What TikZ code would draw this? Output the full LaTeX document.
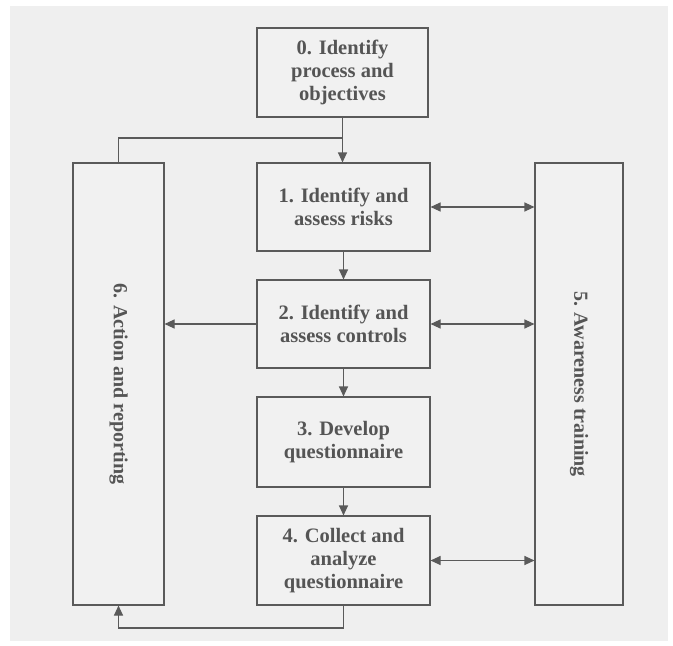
\documentclass[tikz,border=0pt]{standalone}
\usepackage{fontspec}
\setmainfont{Liberation Serif}
\usetikzlibrary{arrows.meta}
\definecolor{bgc}{HTML}{EFEFEF}
\definecolor{boxc}{HTML}{F1F1F1}
\definecolor{linec}{HTML}{5A5A5A}
\definecolor{txtc}{HTML}{555555}
\tikzset{
  stepbox/.style={draw=linec, line width=1.1pt, fill=boxc, rectangle, inner sep=0pt,
    text=txtc, font=\fontsize{20.5}{23}\selectfont\bfseries, align=center},
  sidetext/.style={text=txtc, font=\fontsize{20}{23}\selectfont\bfseries, rotate=-90},
  conn/.style={draw=linec, line width=1.1pt},
  arr/.style={conn, -{Triangle[length=10pt,width=9pt]}},
  darr/.style={conn, {Triangle[length=10pt,width=9pt]}-{Triangle[length=10pt,width=9pt]}}
}
\begin{document}
\begin{tikzpicture}[x=1pt,y=-1pt]
\useasboundingbox (0,0) rectangle (673,646);
\fill[white] (0,0) rectangle (673,646);
\fill[bgc] (10,6) rectangle (668,641);
\node[stepbox, minimum width=171pt, minimum height=89pt] (b0) at (342.5,72.5) {0. Identify\\process and\\objectives};
\node[stepbox, minimum width=173pt, minimum height=88pt] (b1) at (343.5,207) {1. Identify and\\assess risks};
\node[stepbox, minimum width=173pt, minimum height=88pt] (b2) at (343.5,324) {2. Identify and\\assess controls};
\node[stepbox, minimum width=173pt, minimum height=90pt] (b3) at (343.5,442) {3. Develop\\questionnaire};
\node[stepbox, minimum width=173pt, minimum height=89pt] (b4) at (343.5,560.5) {4. Collect and\\analyze\\questionnaire};
\node[stepbox, minimum width=91pt, minimum height=442pt] (b6) at (118.5,384) {};
\node[sidetext] (t6) at (b6.center) {6. Action and reporting};
\node[stepbox, minimum width=88pt, minimum height=442pt] (b5) at (579,384) {};
\node[sidetext] (t5) at (b5.center) {5. Awareness training};
\coordinate (j) at (342.5,138);
\coordinate (bot) at (343.5,628);
\draw[arr] (b0.south) -- (b0.south |- b1.north);
\draw[conn] (b6.north) |- (j);
\draw[arr] (b1.south) -- (b2.north);
\draw[arr] (b2.south) -- (b3.north);
\draw[arr] (b3.south) -- (b4.north);
\draw[arr] (b2.west) -- (b2.west -| b6.east);
\draw[darr] (b1.east) -- (b1.east -| b5.west);
\draw[darr] (b2.east) -- (b2.east -| b5.west);
\draw[darr] (b4.east) -- (b4.east -| b5.west);
\draw[arr] (b4.south) -- (bot) -| (b6.south);
\end{tikzpicture}
\end{document}
